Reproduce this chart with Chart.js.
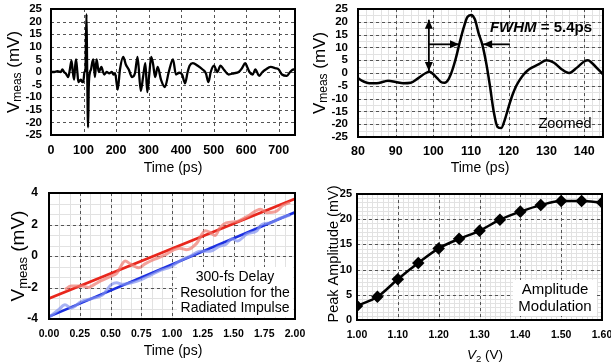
<!DOCTYPE html>
<html>
<head>
<meta charset="utf-8">
<script src="https://cdn.jsdelivr.net/npm/chart.js@4.4.1/dist/chart.umd.min.js"></script>
<style>
  body { margin: 0; background: #fff; }
  #wrap { position: relative; width: 611px; height: 363px; background: #fff; }
  canvas { position: absolute; }
</style>
</head>
<body>
<div id="wrap">
  <canvas id="pulse" width="305" height="180" style="left:0;top:0"></canvas>
  <canvas id="zoomed" width="306" height="180" style="left:305px;top:0"></canvas>
  <canvas id="delay" width="305" height="183" style="left:0;top:180px"></canvas>
  <canvas id="amp" width="306" height="183" style="left:305px;top:180px"></canvas>
</div>
<script>
const FONT = "'Liberation Sans', Arial, Helvetica, sans-serif";

// Top-left: measured impulse, full window
const pulseTime = [0, 10, 20, 30, 35, 40, 45, 53, 58, 63, 67, 71, 74, 77, 81, 84, 88, 92, 96, 99,
  103, 106, 109, 111, 114, 116, 120, 123, 127, 130, 135, 140, 144, 147, 151, 155, 160, 164, 171, 179,
  187, 192, 197, 205, 212, 222, 230, 239, 249, 258, 266, 276, 283, 290, 296, 302, 308, 314, 320, 328,
  338, 350, 362, 375, 384, 394, 403, 412, 420, 426, 436, 451, 466, 476, 484, 491, 501, 511, 521, 531,
  546, 562, 577, 587, 597, 603, 610, 620, 628, 640, 650, 660, 675, 690, 700, 710, 725, 735, 745, 750];
const pulseMv = [0, 0, 0.3, 0, 1, 0, -0.5, -2, 1, 4.5, 0, -3, 2, 5, 0, -4, -3.5, -3, -4, -4,
  0, 1, 23, 3, -22, -6, 0, 1, 4, 5, -2, 5, 2, 0, 1, 2, 0, -1, 0, -0.5,
  0, -1, -0.5, -7, 1, 6, 3, 1, -2, -0.5, 6, -7.5, -2, 3.5, -8, -1, 6, 3, -2, 2,
  -3, -6, 0, 5, -1, -0.3, -1, -4.5, 0, 2.5, 3.5, 2.5, 1, -0.5, -4, 0, 2.5, 0, 2.5, 1,
  -1, -0.5, 0, 1.5, 3.5, 2, 0, -1, 1, -1.5, 0, 1, 2, 1.5, 1, -1, -1.5, 0, 1, 1];
const pulseTimeTicks = [0, 100, 200, 300, 400, 500, 600, 700];
const mvTicks = [-25, -20, -15, -10, -5, 0, 5, 10, 15, 20, 25];

// Top-right: zoom on the main pulse
const zoomTime = [80, 81, 83, 85, 87, 88, 90, 92, 94, 96, 98, 99, 100, 101, 102, 103, 104, 105, 106, 107,
  108, 109, 110, 111, 112, 113, 114, 115, 116, 117, 118, 119, 120, 121, 122, 123, 124, 125, 126, 128,
  130, 132, 134, 136, 138, 140, 141, 142, 144, 145];
const zoomMv = [-2, -3, -4, -4, -3.3, -3, -3.5, -4, -3.8, -2, 0, 0.5, -0.5, -2, -3.5, -3.8, -2.5, 1, 6, 12,
  17.5, 21.8, 22.7, 21, 15.5, 11, 4, -5, -15, -21, -21.5, -18, -13, -8.5, -5, -2.5, -0.5, 1, 2, 3.5,
  5, 4, 1.5, 0, 2, 4.5, 5, 4, 1, -0.5];
const zoomTimeTicks = [80, 90, 100, 110, 120, 130, 140];
// [fromTime, fromMv, toTime, toMv, doubleHeaded]
const fwhmArrows = [
  [98.8, 0.8, 98.8, 20.8, true],
  [98.8, 11.2, 106.8, 11.2, false],
  [120.3, 11.2, 113.2, 11.2, false]
];

// Bottom-left: delay sweep
const delayFitTime = [0, 2];
const redFitMv = [-2.7, 3.63];
const blueFitMv = [-3.85, 2.78];
const redMeasTime = [0.13, 0.18, 0.27, 0.32, 0.37, 0.415, 0.5, 0.55, 0.62, 0.66, 0.73, 0.78, 0.86, 0.94, 1.01,
  1.06, 1.12, 1.2, 1.27, 1.31, 1.35, 1.39, 1.44, 1.53, 1.61, 1.72, 1.77, 1.85, 1.9, 1.96];
const redMeasMv = [-2.13, -1.9, -1.9, -2.0, -1.8, -1.6, -1.3, -1.1, -0.32, -0.5, -0.75, -0.5, -0.2, 0.05, 0.38,
  0.5, 0.4, 0.8, 1.6, 1.5, 1.3, 1.8, 2.1, 2.2, 2.5, 2.97, 2.75, 2.85, 3.2, 3.4];
const blueMeasTime = [0, 0.08, 0.13, 0.18, 0.26, 0.35, 0.43, 0.51, 0.55, 0.6, 0.67, 0.75, 0.83, 0.91, 0.99,
  1.06, 1.15, 1.23, 1.31, 1.38, 1.44, 1.49, 1.53, 1.61, 1.69, 1.73, 1.8, 1.88, 1.96];
const blueMeasMv = [-3.9, -3.4, -3.1, -3.3, -2.9, -2.7, -2.5, -1.8, -1.7, -1.8, -1.7, -1.5, -1.2, -0.9, -0.7,
  -0.33, 0, 0.3, 0.3, 0.6, 0.75, 1.1, 0.95, 1.4, 1.6, 2.0, 2.1, 2.4, 2.6];
const delayTimeTicks = [0, 0.25, 0.5, 0.75, 1, 1.25, 1.5, 1.75, 2];
const delayMvTicks = [-4, -2, 0, 2, 4];

// Bottom-right: amplitude vs V2
const v2Volts = [1.00, 1.05, 1.10, 1.15, 1.20, 1.25, 1.30, 1.35, 1.40, 1.45, 1.50, 1.55, 1.60];
const peakAmpMv = [2.8, 4.6, 8.1, 11.3, 14.2, 16.1, 17.7, 19.9, 21.5, 22.8, 23.6, 23.6, 23.3];
const v2Ticks = [1.0, 1.1, 1.2, 1.3, 1.4, 1.5, 1.6];
const ampTicks = [0, 5, 10, 15, 20, 25];

function pts(xs, ys) {
  return xs.map((x, i) => ({ x: x, y: ys[i] }));
}

function f(spec) {
  return spec + ' ' + FONT;
}

function drawRich(ctx, parts, cx, cy, vertical) {
  ctx.save();
  ctx.translate(cx, cy);
  if (vertical) ctx.rotate(-Math.PI / 2);
  ctx.fillStyle = '#000';
  ctx.textBaseline = 'middle';
  ctx.textAlign = 'left';
  let total = 0;
  parts.forEach(p => { ctx.font = p[1]; total += ctx.measureText(p[0]).width; });
  let x = -total / 2;
  parts.forEach(p => {
    ctx.font = p[1];
    ctx.fillText(p[0], x, p[2] || 0);
    x += ctx.measureText(p[0]).width;
  });
  ctx.restore();
}

function arrowHead(ctx, from, to) {
  const ang = Math.atan2(to[1] - from[1], to[0] - from[0]);
  const len = 9, half = 4;
  ctx.beginPath();
  ctx.moveTo(to[0], to[1]);
  ctx.lineTo(to[0] - len * Math.cos(ang) + half * Math.sin(ang), to[1] - len * Math.sin(ang) - half * Math.cos(ang));
  ctx.lineTo(to[0] - len * Math.cos(ang) - half * Math.sin(ang), to[1] - len * Math.sin(ang) + half * Math.cos(ang));
  ctx.closePath();
  ctx.fill();
}

// grid: light minor lines at a fixed step, dashed major lines at the tick values.
// dashes are small filled rects so they stay crisp
function drawGrid(chart, spec) {
  const ctx = chart.ctx, a = chart.chartArea;
  const sx = chart.scales.x, sy = chart.scales.y;
  const xMin = sx.min, xMax = sx.max, yMin = sy.min, yMax = sy.max;
  ctx.save();
  ctx.fillStyle = '#e2e2e2';
  if (spec.minorX) {
    for (let k = 1; xMin + k * spec.minorX < xMax - 1e-9; k++) {
      const p = Math.round(sx.getPixelForValue(xMin + k * spec.minorX));
      ctx.fillRect(p, a.top, 1, a.bottom - a.top);
    }
  }
  if (spec.minorY) {
    for (let k = 1; yMin + k * spec.minorY < yMax - 1e-9; k++) {
      const p = Math.round(sy.getPixelForValue(yMin + k * spec.minorY));
      ctx.fillRect(a.left, p, a.right - a.left, 1);
    }
  }
  ctx.fillStyle = '#555555';
  spec.majorX.forEach(v => {
    const p = Math.round(sx.getPixelForValue(v));
    for (let d = a.top; d < a.bottom; d += 6) ctx.fillRect(p, d, 1, Math.min(3, a.bottom - d));
  });
  spec.majorY.forEach(v => {
    const p = Math.round(sy.getPixelForValue(v));
    for (let d = a.left; d < a.right; d += 6) ctx.fillRect(d, p, Math.min(3, a.right - d), 1);
  });
  ctx.restore();
}

function decorPlugin(spec) {
  return {
    id: 'decor',
    beforeDatasetsDraw(chart) {
      drawGrid(chart, spec);
    },
    afterDatasetsDraw(chart) {
      const ctx = chart.ctx, a = chart.chartArea;
      const sx = chart.scales.x, sy = chart.scales.y;
      ctx.save();
      ctx.fillStyle = '#000';
      ctx.strokeStyle = '#000';
      (spec.arrows || []).forEach(r => {
        const p0 = [sx.getPixelForValue(r[0]), sy.getPixelForValue(r[1])];
        const p1 = [sx.getPixelForValue(r[2]), sy.getPixelForValue(r[3])];
        ctx.lineWidth = 1.8;
        ctx.beginPath();
        ctx.moveTo(p0[0], p0[1]);
        ctx.lineTo(p1[0], p1[1]);
        ctx.stroke();
        arrowHead(ctx, p0, p1);
        if (r[4]) arrowHead(ctx, p1, p0);
      });
      (spec.notes || []).forEach(n => {
        if (n.box) {
          ctx.fillStyle = '#fff';
          ctx.fillRect(n.box[0], n.box[1], n.box[2], n.box[3]);
        }
        n.lines.forEach((parts, i) => drawRich(ctx, parts, n.x, n.y + i * n.lineH, false));
      });
      ctx.lineWidth = 2;
      ctx.strokeStyle = '#000';
      ctx.strokeRect(a.left, a.top, a.right - a.left, a.bottom - a.top);
      drawRich(ctx, spec.xTitle.parts, spec.xTitle.x, spec.xTitle.y, false);
      drawRich(ctx, spec.yTitle.parts, spec.yTitle.x, spec.yTitle.y, true);
      ctx.restore();
    }
  };
}

function majorAxis(pos, min, max, tickVals, fontSize, pad, fmt) {
  return {
    type: 'linear', position: pos, min: min, max: max,
    afterBuildTicks: s => { s.ticks = tickVals.map(v => ({ value: v })); },
    ticks: {
      color: '#000', padding: pad, autoSkip: false, maxRotation: 0,
      font: { family: FONT, size: fontSize, weight: 'bold' },
      callback: fmt || (v => String(v))
    },
    grid: { display: false, drawTicks: false },
    border: { display: false }
  };
}

function makePanel(id, box, scales, datasets, decor) {
  const canvas = document.getElementById(id);
  const W = canvas.width, H = canvas.height;
  scales.x.afterFit = s => { s.height = H - box.bottom; s.paddingLeft = 0; s.paddingRight = 0; };
  scales.y.afterFit = s => { s.width = box.left; s.paddingTop = 0; s.paddingBottom = 0; };
  datasets.forEach(d => { d.xAxisID = 'x'; d.yAxisID = 'y'; });
  return new Chart(canvas, {
    type: 'line',
    data: { datasets: datasets },
    options: {
      responsive: false,
      animation: false,
      devicePixelRatio: 1,
      layout: { autoPadding: false, padding: { left: 0, top: box.top, right: W - box.right, bottom: 0 } },
      plugins: { legend: { display: false }, tooltip: { enabled: false } },
      scales: scales
    },
    plugins: [decorPlugin(decor)]
  });
}

const vmeasTitle = size => [
  ['V', f(size + 'px')],
  ['meas', f(Math.round(size * 0.7) + 'px'), 4],
  [' (mV)', f(size + 'px')]
];
const timeTitle = [['Time (ps)', f('14px')]];

// Panel 1
makePanel('pulse', { left: 51, right: 295, top: 9, bottom: 135 }, {
  x: majorAxis('bottom', 0, 750, pulseTimeTicks, 12.5, 8),
  y: majorAxis('left', -25, 25, mvTicks, 11.5, 9)
}, [{
  data: pts(pulseTime, pulseMv),
  borderColor: '#000', borderWidth: 2.3, pointRadius: 0, cubicInterpolationMode: 'monotone'
}], {
  majorX: pulseTimeTicks, majorY: mvTicks,
  xTitle: { parts: timeTitle, x: 173, y: 168 },
  yTitle: { parts: vmeasTitle(17), x: 14, y: 72 }
});

// Panel 2
makePanel('zoomed', { left: 53, right: 298, top: 9, bottom: 137 }, {
  x: majorAxis('bottom', 80, 145, zoomTimeTicks, 12.5, 7.5),
  y: majorAxis('left', -25, 25, mvTicks, 11.5, 10)
}, [{
  data: pts(zoomTime, zoomMv),
  borderColor: '#000', borderWidth: 2.5, pointRadius: 0, cubicInterpolationMode: 'monotone'
}], {
  majorX: zoomTimeTicks, majorY: mvTicks, minorX: 2, minorY: 2.5,
  arrows: fwhmArrows,
  notes: [
    { x: 236, y: 28, lineH: 0, lines: [[['FWHM', f('italic bold 15px')], [' = 5.4ps', f('bold 15px')]]] },
    { x: 260, y: 124, lineH: 0, lines: [[['Zoomed', f('14.5px')]]] }
  ],
  xTitle: { parts: timeTitle, x: 175, y: 168 },
  yTitle: { parts: vmeasTitle(17), x: 15, y: 73 }
});

// Panel 3
makePanel('delay', { left: 49, right: 295, top: 13, bottom: 139 }, {
  x: majorAxis('bottom', 0, 2, delayTimeTicks, 10.5, 9, v => v.toFixed(2)),
  y: majorAxis('left', -4, 4, delayMvTicks, 12, 11)
}, [
  { data: pts(redMeasTime, redMeasMv), borderColor: 'rgba(240,120,110,0.7)', borderWidth: 3,
    pointRadius: 0, cubicInterpolationMode: 'monotone' },
  { data: pts(blueMeasTime, blueMeasMv), borderColor: 'rgba(130,145,240,0.7)', borderWidth: 3,
    pointRadius: 0, cubicInterpolationMode: 'monotone' },
  { data: pts(delayFitTime, redFitMv), borderColor: '#e8261c', borderWidth: 2.6, pointRadius: 0 },
  { data: pts(delayFitTime, blueFitMv), borderColor: '#1b2fe0', borderWidth: 2.6, pointRadius: 0 }
], {
  majorX: delayTimeTicks, majorY: delayMvTicks, minorX: 0.25 / 3, minorY: 2 / 3,
  notes: [{
    x: 235, y: 97, lineH: 15.8, box: [177, 87, 116, 50],
    lines: [[['300-fs Delay', f('14px')]], [['Resolution for the', f('14px')]], [['Radiated Impulse', f('14px')]]]
  }],
  xTitle: { parts: timeTitle, x: 173, y: 171 },
  yTitle: { parts: vmeasTitle(19), x: 19, y: 76 }
});

// Panel 4
makePanel('amp', { left: 52, right: 297, top: 14, bottom: 140 }, {
  x: majorAxis('bottom', 1.0, 1.6, v2Ticks, 10.5, 9, v => v.toFixed(2)),
  y: majorAxis('left', 0, 25, ampTicks, 11, 5)
}, [{
  data: pts(v2Volts, peakAmpMv),
  borderColor: '#000', borderWidth: 2.5, cubicInterpolationMode: 'monotone',
  pointStyle: 'rectRot', pointRadius: 4.5, pointBackgroundColor: '#000', pointBorderColor: '#000'
}], {
  majorX: v2Ticks, majorY: ampTicks, minorX: 0.0125, minorY: 5 / 6,
  notes: [{
    x: 250, y: 110, lineH: 17, box: [208, 100, 84, 36],
    lines: [[['Amplitude', f('15px')]], [['Modulation', f('15px')]]]
  }],
  xTitle: { parts: [['V', f('italic 13.5px')], ['2', f('9.5px'), 4], [' (V)', f('13.5px')]], x: 180, y: 175 },
  yTitle: { parts: [['Peak Amplitude (mV)', f('14.5px')]], x: 28.5, y: 74 }
});
</script>
</body>
</html>
